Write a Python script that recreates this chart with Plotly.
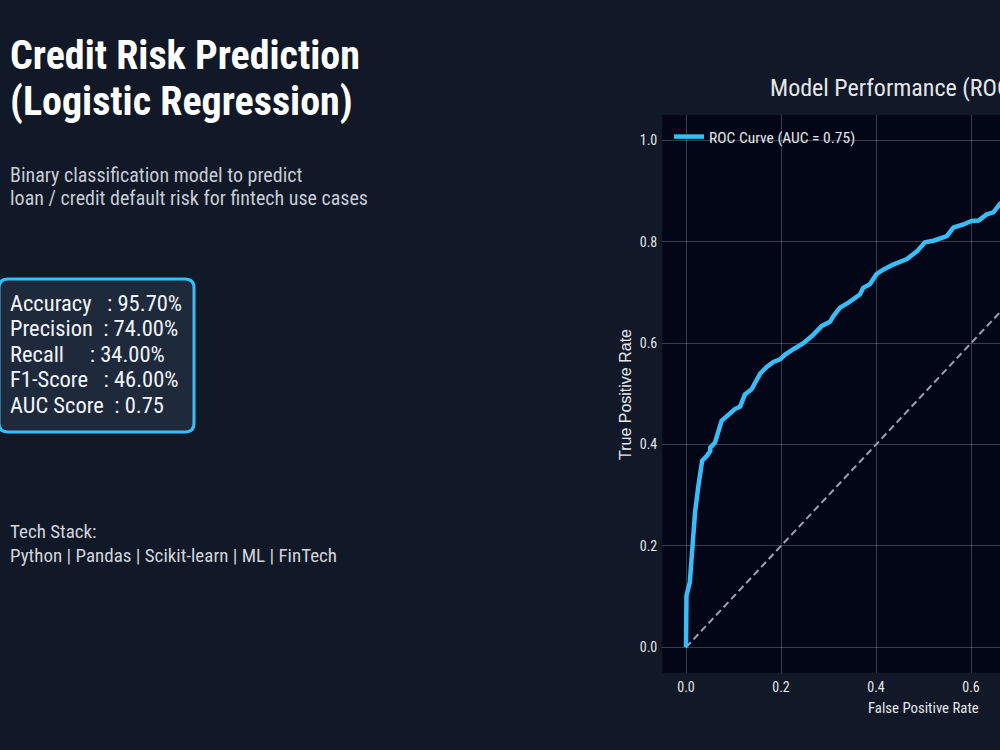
import plotly.graph_objects as go

# ---------------- data ----------------
fpr = [0.0, 0.001, 0.008, 0.014, 0.019, 0.026, 0.031, 0.034, 0.044, 0.051,
       0.051, 0.061, 0.075, 0.089, 0.103, 0.114, 0.124, 0.138, 0.149, 0.156,
       0.170, 0.184, 0.198, 0.208, 0.226, 0.247, 0.265, 0.286, 0.303, 0.310,
       0.324, 0.342, 0.366, 0.373, 0.387, 0.401, 0.415, 0.436, 0.465, 0.479,
       0.486, 0.503, 0.521, 0.549, 0.563, 0.584, 0.601, 0.616, 0.633, 0.647,
       0.661, 0.70, 0.78, 0.88, 0.95, 1.0]
tpr = [0.0, 0.102, 0.128, 0.200, 0.266, 0.318, 0.358, 0.368, 0.378, 0.387,
       0.394, 0.404, 0.447, 0.458, 0.470, 0.475, 0.499, 0.509, 0.529, 0.540,
       0.553, 0.563, 0.568, 0.577, 0.588, 0.600, 0.614, 0.634, 0.642, 0.653,
       0.670, 0.680, 0.696, 0.709, 0.716, 0.736, 0.745, 0.755, 0.766, 0.775,
       0.781, 0.799, 0.802, 0.811, 0.828, 0.834, 0.841, 0.842, 0.854, 0.858,
       0.875, 0.89, 0.92, 0.96, 0.985, 1.0]
diag_x = [0, 1]
diag_y = [0, 1]

auc = 0.75
roc_label = f"ROC Curve (AUC = {auc:.2f})"

metric_lines = [
    "Accuracy   : 95.70%",
    "Precision  : 74.00%",
    "Recall     : 34.00%",
    "F1-Score   : 46.00%",
    "AUC Score  : 0.75",
]
title_lines = ["Credit Risk Prediction", "(Logistic Regression)"]
subtitle_lines = ["Binary classification model to predict",
                  "loan / credit default risk for fintech use cases"]
tech_lines = ["Tech Stack:", "Python | Pandas | Scikit-learn | ML | FinTech"]
plot_title = "Model Performance (ROC Curve)"
x_title = "False Positive Rate"
y_title = "True Positive Rate"

# ---------------- style ----------------
FONT = "Roboto Condensed, Liberation Sans, Arial, sans-serif"
FONT_V = "Liberation Sans, Arial, sans-serif"
BG = "#111827"
PLOT_BG = "#020617"
ACCENT = "#38bdf8"
W, H = 1000, 750

def px(x):
    return x / W

def py(y):
    return 1 - y / H

fig = go.Figure()
fig.add_trace(go.Scatter(x=diag_x, y=diag_y, mode="lines",
                         line=dict(color="#9ca3af", width=2, dash="7px,4px"),
                         showlegend=False, hoverinfo="skip"))
fig.add_trace(go.Scatter(x=fpr, y=tpr, mode="lines", name=roc_label,
                         line=dict(color=ACCENT, width=4.5)))

annotations = []
def add_text(text, x, y, size, color, bold=False, xanchor="left", angle=0, family=FONT):
    annotations.append(dict(
        text=f"<b>{text}</b>" if bold else text,
        x=px(x), y=py(y), xref="paper", yref="paper",
        xanchor=xanchor, yanchor="middle", showarrow=False, textangle=angle,
        font=dict(family=family, size=size, color=color)))

add_text(title_lines[0], 8, 55, 40, "#ffffff", bold=True)
add_text(title_lines[1], 8, 101, 40, "#ffffff", bold=True)
add_text(subtitle_lines[0], 8, 175, 20, "#c7ccd6")
add_text(subtitle_lines[1], 8, 198, 20, "#c7ccd6")
for i, line in enumerate(metric_lines):
    add_text(line, 8, 302.5 + i * 25.5, 22.5, "#f1f5f9")
add_text(tech_lines[0], 8, 531, 19, "#d1d5db")
add_text(tech_lines[1], 8, 555, 19, "#d1d5db")
add_text(plot_title, 923.5, 88, 24, "#e5e7eb", xanchor="center")
add_text(x_title, 923, 708, 14.8, "#e5e7eb", xanchor="center")
add_text(y_title, 626, 395, 16, "#e5e7eb", xanchor="center", angle=-90, family=FONT_V)

# rounded metrics box
x0, x1, y0, y1, r = -1, 194, 279, 432, 9
rx, ry = r / W, r / H
X0, X1 = px(x0), px(x1)
Yt, Yb = py(y0), py(y1)
path = (f"M {X0+rx},{Yt} L {X1-rx},{Yt} Q {X1},{Yt} {X1},{Yt-ry} "
        f"L {X1},{Yb+ry} Q {X1},{Yb} {X1-rx},{Yb} "
        f"L {X0+rx},{Yb} Q {X0},{Yb} {X0},{Yb+ry} "
        f"L {X0},{Yt-ry} Q {X0},{Yt} {X0+rx},{Yt} Z")

fig.update_layout(
    width=W, height=H,
    margin=dict(l=0, r=0, t=0, b=0),
    paper_bgcolor=BG, plot_bgcolor=PLOT_BG,
    font=dict(family=FONT, color="#e5e7eb"),
    annotations=annotations,
    shapes=[dict(type="path", path=path, xref="paper", yref="paper",
                 fillcolor="#1e293b", line=dict(color=ACCENT, width=3),
                 layer="below")],
    legend=dict(x=px(669), y=py(120), xanchor="left", yanchor="top",
                bgcolor="rgba(0,0,0,0)", font=dict(family=FONT, size=15.5, color="#e5e7eb")),
    showlegend=True,
    xaxis=dict(domain=[px(662.25), 1.0], range=[-0.05, 0.661], dtick=0.2,
               tickformat=".1f", showgrid=True, gridcolor="rgba(255,255,255,0.22)",
               gridwidth=1, zeroline=False, showline=False, ticks="",
               ticklabelstandoff=4,
               tickfont=dict(family=FONT, size=14, color="#e5e7eb")),
    yaxis=dict(domain=[1 - 672.7 / H, 1 - 115 / H], range=[-0.05, 1.05], dtick=0.2,
               tickformat=".1f", showgrid=True, gridcolor="rgba(255,255,255,0.22)",
               gridwidth=1, zeroline=False, showline=False, ticks="",
               ticklabelstandoff=4,
               tickfont=dict(family=FONT, size=14, color="#e5e7eb")),
)

fig.write_html("out.html")
